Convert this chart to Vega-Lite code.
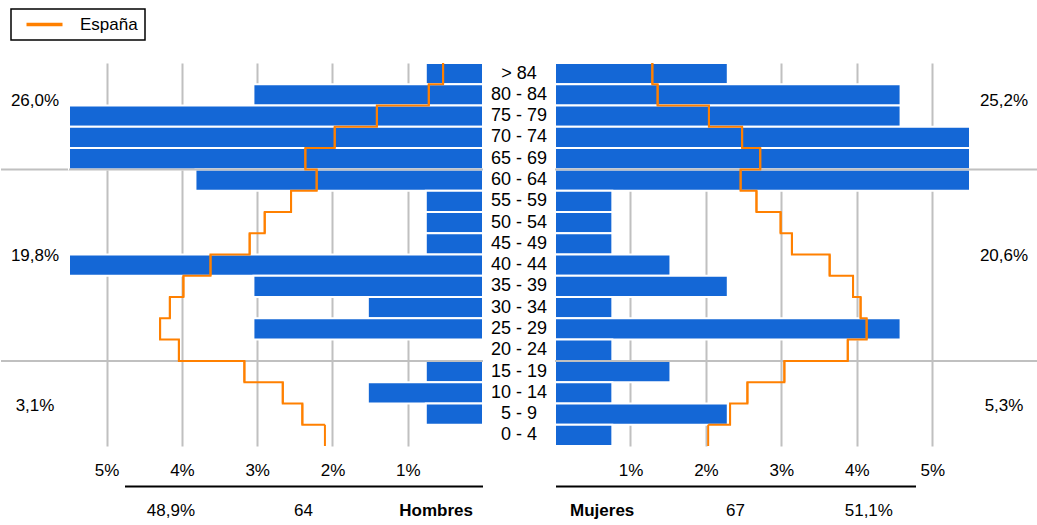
{
  "$schema": "https://vega.github.io/schema/vega-lite/v6.json",
  "padding": {"left": 0, "right": 0, "top": 8, "bottom": 0},
  "config": {
    "font": "Liberation Sans",
    "view": {"stroke": null},
    "locale": {"number": {"decimal": ",", "thousands": ".", "grouping": [3], "currency": ["", " €"]}},
    "text": {"font": "Liberation Sans", "fontSize": 17, "color": "#000000"},
    "axis": {
      "labelFont": "Liberation Sans",
      "labelFontSize": 17,
      "labelColor": "#000000",
      "labelPadding": 16,
      "tickSize": 0,
      "ticks": false,
      "domain": false,
      "gridColor": "#c0c0c0",
      "gridWidth": 2,
      "gridOpacity": 1,
      "title": null
    }
  },
  "datasets": {
    "piramide": [
      {"grupo": "> 84", "edad_ini": 85, "edad_fin": 90, "hombres": 0.76, "mujeres": 2.29, "esp_h": 0.53, "esp_m": 1.29},
      {"grupo": "80 - 84", "edad_ini": 80, "edad_fin": 85, "hombres": 3.05, "mujeres": 4.58, "esp_h": 0.72, "esp_m": 1.36},
      {"grupo": "75 - 79", "edad_ini": 75, "edad_fin": 80, "hombres": 7.63, "mujeres": 4.58, "esp_h": 1.41, "esp_m": 2.04},
      {"grupo": "70 - 74", "edad_ini": 70, "edad_fin": 75, "hombres": 7.63, "mujeres": 6.87, "esp_h": 1.97, "esp_m": 2.48},
      {"grupo": "65 - 69", "edad_ini": 65, "edad_fin": 70, "hombres": 6.87, "mujeres": 6.87, "esp_h": 2.36, "esp_m": 2.72},
      {"grupo": "60 - 64", "edad_ini": 60, "edad_fin": 65, "hombres": 3.82, "mujeres": 8.40, "esp_h": 2.21, "esp_m": 2.46},
      {"grupo": "55 - 59", "edad_ini": 55, "edad_fin": 60, "hombres": 0.76, "mujeres": 0.76, "esp_h": 2.55, "esp_m": 2.67},
      {"grupo": "50 - 54", "edad_ini": 50, "edad_fin": 55, "hombres": 0.76, "mujeres": 0.76, "esp_h": 2.90, "esp_m": 2.99},
      {"grupo": "45 - 49", "edad_ini": 45, "edad_fin": 50, "hombres": 0.76, "mujeres": 0.76, "esp_h": 3.10, "esp_m": 3.14},
      {"grupo": "40 - 44", "edad_ini": 40, "edad_fin": 45, "hombres": 6.11, "mujeres": 1.53, "esp_h": 3.62, "esp_m": 3.64},
      {"grupo": "35 - 39", "edad_ini": 35, "edad_fin": 40, "hombres": 3.05, "mujeres": 2.29, "esp_h": 3.98, "esp_m": 3.95},
      {"grupo": "30 - 34", "edad_ini": 30, "edad_fin": 35, "hombres": 1.53, "mujeres": 0.76, "esp_h": 4.16, "esp_m": 4.05},
      {"grupo": "25 - 29", "edad_ini": 25, "edad_fin": 30, "hombres": 3.05, "mujeres": 4.58, "esp_h": 4.29, "esp_m": 4.13},
      {"grupo": "20 - 24", "edad_ini": 20, "edad_fin": 25, "hombres": 0, "mujeres": 0.76, "esp_h": 4.04, "esp_m": 3.88},
      {"grupo": "15 - 19", "edad_ini": 15, "edad_fin": 20, "hombres": 0.76, "mujeres": 1.53, "esp_h": 3.17, "esp_m": 3.04},
      {"grupo": "10 - 14", "edad_ini": 10, "edad_fin": 15, "hombres": 1.53, "mujeres": 0.76, "esp_h": 2.66, "esp_m": 2.55},
      {"grupo": "5 - 9", "edad_ini": 5, "edad_fin": 10, "hombres": 0.76, "mujeres": 2.29, "esp_h": 2.40, "esp_m": 2.32},
      {"grupo": "0 - 4", "edad_ini": 0, "edad_fin": 5, "hombres": 0, "mujeres": 0.76, "esp_h": 2.10, "esp_m": 2.03}
    ],
    "grupos": [
      {"lado": "Hombres", "grupo": "65 y más", "desde": 65, "hasta": 90, "pct": 0.260, "edad_etiqueta": 81},
      {"lado": "Hombres", "grupo": "20 - 64", "desde": 20, "hasta": 65, "pct": 0.198, "edad_etiqueta": 44.6},
      {"lado": "Hombres", "grupo": "0 - 19", "desde": 0, "hasta": 20, "pct": 0.031, "edad_etiqueta": 9.4},
      {"lado": "Mujeres", "grupo": "65 y más", "desde": 65, "hasta": 90, "pct": 0.252, "edad_etiqueta": 81},
      {"lado": "Mujeres", "grupo": "20 - 64", "desde": 20, "hasta": 65, "pct": 0.206, "edad_etiqueta": 44.6},
      {"lado": "Mujeres", "grupo": "0 - 19", "desde": 0, "hasta": 20, "pct": 0.053, "edad_etiqueta": 9.4}
    ],
    "totales": [
      {"lado": "Hombres", "campo": "pct", "texto": "48,9%"},
      {"lado": "Hombres", "campo": "n", "texto": "64"},
      {"lado": "Hombres", "campo": "sexo", "texto": "Hombres"},
      {"lado": "Mujeres", "campo": "sexo", "texto": "Mujeres"},
      {"lado": "Mujeres", "campo": "n", "texto": "67"},
      {"lado": "Mujeres", "campo": "pct", "texto": "51,1%"}
    ]
  },
  "spacing": 8,
  "center": true,
  "vconcat": [
    {
      "spacing": 0,
      "bounds": "flush",
      "hconcat": [
        {
          "width": 68, "height": 383,
          "data": {"name": "grupos"},
          "transform": [{"filter": "datum.lado == 'Hombres'"}],
          "layer": [
            {
              "transform": [{"filter": "datum.desde > 0"}],
              "mark": {"type": "rule", "color": "#c0c0c0", "strokeWidth": 2},
              "encoding": {"y": {"field": "desde", "type": "quantitative", "scale": {"domain": [0, 90]}, "axis": null}}
            },
            {
              "mark": {"type": "text", "fontSize": 17},
              "encoding": {
                "y": {"field": "edad_etiqueta", "type": "quantitative"},
                "text": {"field": "pct", "type": "quantitative", "format": ".1%"}
              }
            }
          ]
        },
        {
          "width": 414, "height": 383,
          "data": {"name": "piramide"},
          "layer": [
            {
              "mark": {"type": "rect", "color": "#1467d6", "stroke": "#ffffff", "strokeWidth": 2},
              "encoding": {
                "x": {"field": "hombres", "type": "quantitative", "scale": {"domain": [0, 5.45], "reverse": true, "clamp": true},
                      "axis": {"values": [1, 2, 3, 4, 5], "grid": true, "labelExpr": "datum.value + '%'"}},
                "x2": {"datum": 0},
                "y": {"field": "edad_ini", "type": "quantitative", "scale": {"domain": [0, 90]}, "axis": null},
                "y2": {"field": "edad_fin"}
              }
            },
            {
              "data": {"name": "grupos"},
              "transform": [{"filter": "datum.lado == 'Hombres' && datum.desde > 0"}],
              "mark": {"type": "rule", "color": "#c0c0c0", "strokeWidth": 2},
              "encoding": {"y": {"field": "desde", "type": "quantitative"}}
            },
            {
              "mark": {"type": "line", "interpolate": "step-before", "strokeWidth": 2},
              "encoding": {
                "x": {"field": "esp_h", "type": "quantitative"},
                "y": {"field": "edad_fin", "type": "quantitative"},
                "order": {"field": "edad_fin", "sort": "descending"},
                "color": {"datum": "España", "scale": {"range": ["#ff8000"]},
                  "legend": {"orient": "none", "legendX": 10, "legendY": -54, "title": null,
                    "symbolType": "M-3,0H3", "symbolSize": 144, "symbolStrokeWidth": 3.5,
                    "symbolOffset": 18, "labelOffset": 27,
                    "labelFont": "Liberation Sans", "labelFontSize": 17, "labelColor": "#000000",
                    "strokeColor": "#000000", "fillColor": "#ffffff", "padding": 7,
                    "encode": {"legend": {"update": {"strokeWidth": {"value": 1.5}}}}}}
              }
            },
            {
              "mark": {"type": "rule", "strokeWidth": 2},
              "encoding": {
                "x": {"field": "esp_h", "type": "quantitative"},
                "y": {"field": "edad_ini", "type": "quantitative"},
                "y2": {"field": "edad_fin"},
                "color": {"datum": "España"}
              }
            }
          ]
        },
        {
          "width": 72, "height": 383,
          "data": {"name": "piramide"},
          "mark": {"type": "text", "fontSize": 18},
          "encoding": {
            "y": {"field": "grupo", "type": "ordinal", "sort": {"field": "edad_ini", "order": "descending"}, "axis": null},
            "text": {"field": "grupo", "type": "nominal"}
          }
        },
        {
          "width": 415, "height": 383,
          "data": {"name": "piramide"},
          "layer": [
            {
              "mark": {"type": "rect", "color": "#1467d6", "stroke": "#ffffff", "strokeWidth": 2},
              "encoding": {
                "x": {"field": "mujeres", "type": "quantitative", "scale": {"domain": [0, 5.46], "clamp": true},
                      "axis": {"values": [1, 2, 3, 4, 5], "grid": true, "labelExpr": "datum.value + '%'"}},
                "x2": {"datum": 0},
                "y": {"field": "edad_ini", "type": "quantitative", "scale": {"domain": [0, 90]}, "axis": null},
                "y2": {"field": "edad_fin"}
              }
            },
            {
              "data": {"name": "grupos"},
              "transform": [{"filter": "datum.lado == 'Mujeres' && datum.desde > 0"}],
              "mark": {"type": "rule", "color": "#c0c0c0", "strokeWidth": 2},
              "encoding": {"y": {"field": "desde", "type": "quantitative"}}
            },
            {
              "mark": {"type": "line", "interpolate": "step-before", "strokeWidth": 2, "color": "#ff8000"},
              "encoding": {
                "x": {"field": "esp_m", "type": "quantitative"},
                "y": {"field": "edad_fin", "type": "quantitative"},
                "order": {"field": "edad_fin", "sort": "descending"}
              }
            },
            {
              "mark": {"type": "rule", "strokeWidth": 2, "color": "#ff8000"},
              "encoding": {
                "x": {"field": "esp_m", "type": "quantitative"},
                "y": {"field": "edad_ini", "type": "quantitative"},
                "y2": {"field": "edad_fin"}
              }
            }
          ]
        },
        {
          "width": 68, "height": 383,
          "data": {"name": "grupos"},
          "transform": [{"filter": "datum.lado == 'Mujeres'"}],
          "layer": [
            {
              "transform": [{"filter": "datum.desde > 0"}],
              "mark": {"type": "rule", "color": "#c0c0c0", "strokeWidth": 2},
              "encoding": {"y": {"field": "desde", "type": "quantitative", "scale": {"domain": [0, 90]}, "axis": null}}
            },
            {
              "mark": {"type": "text", "fontSize": 17},
              "encoding": {
                "y": {"field": "edad_etiqueta", "type": "quantitative"},
                "text": {"field": "pct", "type": "quantitative", "format": ".1%"}
              }
            }
          ]
        }
      ]
    },
    {
      "spacing": 73,
      "bounds": "flush",
      "hconcat": [
        {
          "width": 358, "height": 30,
          "data": {"name": "totales"},
          "transform": [{"filter": "datum.lado == 'Hombres'"}],
          "layer": [
            {
              "transform": [{"filter": "datum.campo != 'sexo'"}],
              "mark": {"type": "text", "fontSize": 17, "dy": 10},
              "encoding": {
                "x": {"field": "campo", "type": "nominal", "scale": {"type": "point", "domain": ["pct", "n", "sexo"], "padding": 0.35},
                      "axis": {"orient": "top", "domain": true, "domainColor": "#000000", "domainWidth": 2, "labels": false, "ticks": false, "grid": false}},
                "text": {"field": "texto", "type": "nominal"}
              }
            },
            {
              "transform": [{"filter": "datum.campo == 'sexo'"}],
              "mark": {"type": "text", "fontSize": 17, "fontWeight": "bold", "dy": 10},
              "encoding": {
                "x": {"field": "campo", "type": "nominal"},
                "text": {"field": "texto", "type": "nominal"}
              }
            }
          ]
        },
        {
          "width": 360, "height": 30,
          "data": {"name": "totales"},
          "transform": [{"filter": "datum.lado == 'Mujeres'"}],
          "layer": [
            {
              "transform": [{"filter": "datum.campo != 'sexo'"}],
              "mark": {"type": "text", "fontSize": 17, "dy": 10},
              "encoding": {
                "x": {"field": "campo", "type": "nominal", "scale": {"type": "point", "domain": ["sexo", "n", "pct"], "padding": 0.35},
                      "axis": {"orient": "top", "domain": true, "domainColor": "#000000", "domainWidth": 2, "labels": false, "ticks": false, "grid": false}},
                "text": {"field": "texto", "type": "nominal"}
              }
            },
            {
              "transform": [{"filter": "datum.campo == 'sexo'"}],
              "mark": {"type": "text", "fontSize": 17, "fontWeight": "bold", "dy": 10},
              "encoding": {
                "x": {"field": "campo", "type": "nominal"},
                "text": {"field": "texto", "type": "nominal"}
              }
            }
          ]
        }
      ]
    }
  ]
}
